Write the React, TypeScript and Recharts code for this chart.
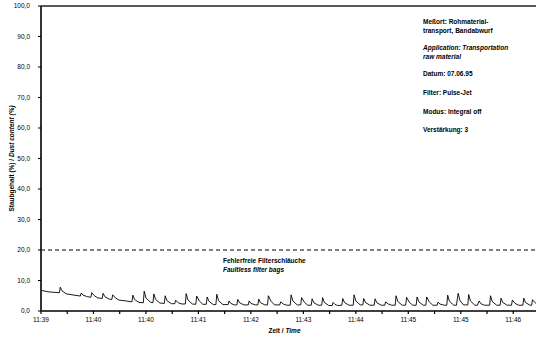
import React from 'react';
import { LineChart, Line, XAxis, YAxis, ReferenceLine } from 'recharts';

// time in seconds after 11:39:00
const seconds = [
  0, 8, 16, 21, 22, 24, 29,
  45, 46, 48, 53,
  57, 58, 61, 65,
  70, 71, 73, 78,
  81, 82, 85, 89,
  97,
  104, 105, 107, 112,
  117, 118, 120, 125,
  128, 129, 131, 136,
  141, 142, 144, 149,
  153, 154, 157, 161,
  165, 166, 168, 173,
  177, 178, 181, 185,
  189, 190, 192, 197,
  200, 201, 203, 208,
  214, 215, 217, 221,
  224, 225, 227, 232,
  237, 238, 240, 245,
  248, 249, 251, 256,
  259, 260, 263, 267,
  273, 274, 277, 281,
  285, 286, 288, 293,
  297, 298, 301, 305,
  309, 310, 312, 317,
  321, 322, 324, 329,
  333, 334, 336, 339,
  344, 345, 347, 352,
  357, 358, 360, 365,
  368, 369, 371, 376,
  381, 382, 384, 389,
  393, 394, 397, 401,
  405, 406, 408, 413,
  417, 418, 421, 425,
  429, 430, 432, 437,
  440, 441, 444, 448,
  453, 454, 456, 461,
  464, 465, 467, 472,
  475, 477, 479, 483,
  488, 489, 491, 496,
  499, 501, 503, 507,
  513, 514, 516, 521,
  525, 526, 528, 533,
  538, 539, 542, 546,
  551, 552, 554, 559,
  561, 562, 565, 566,
];

// dust content in %
const dust = [
  6.8, 6.3, 6.1, 6.0, 7.8, 6.6, 5.6,
  4.9, 5.9, 5.2, 4.7,
  4.5, 6.0, 5.0, 4.3,
  4.1, 5.8, 4.7, 3.9,
  3.8, 5.3, 4.3, 3.6,
  3.3,
  3.0, 5.2, 3.8, 2.8,
  2.7, 6.5, 4.3, 2.9,
  2.7, 5.6, 3.8, 2.6,
  2.5, 5.0, 3.4, 2.4,
  2.4, 3.5, 2.7, 2.3,
  2.3, 5.7, 3.6, 2.3,
  2.2, 4.9, 3.3, 2.2,
  2.2, 4.6, 3.2, 2.1,
  2.1, 5.5, 3.4, 2.1,
  2.1, 3.3, 2.5, 2.0,
  2.0, 3.8, 2.7, 2.0,
  2.0, 3.3, 2.5, 2.0,
  2.0, 3.9, 2.7, 2.0,
  2.0, 5.0, 3.2, 2.0,
  2.0, 3.0, 2.3, 1.9,
  1.9, 5.3, 3.3, 2.0,
  2.0, 4.4, 2.9, 1.9,
  1.9, 4.0, 2.7, 1.9,
  1.9, 4.4, 2.8, 1.8,
  1.8, 2.8, 2.2, 1.8,
  1.9, 4.1, 2.8, 1.9,
  1.9, 5.3, 3.3, 2.0,
  2.0, 4.1, 2.8, 1.9,
  1.9, 4.0, 2.7, 1.9,
  1.9, 3.0, 2.3, 1.9,
  1.9, 5.0, 3.1, 1.9,
  1.9, 4.5, 2.9, 1.9,
  1.9, 4.6, 3.0, 1.9,
  1.9, 4.6, 3.0, 1.9,
  1.9, 2.9, 2.3, 1.9,
  1.9, 5.2, 3.2, 1.9,
  1.9, 5.8, 3.5, 2.0,
  2.0, 5.4, 3.3, 1.9,
  1.9, 3.3, 2.4, 1.9,
  1.9, 5.0, 3.1, 1.9,
  1.9, 4.2, 2.8, 1.9,
  1.9, 3.6, 2.5, 1.9,
  1.9, 4.2, 2.8, 1.9,
  1.9, 3.7, 2.7, 2.5,
];

const xTickSeconds = [0, 30, 60, 90, 120, 150, 180, 210, 240, 270, 300, 330, 360, 390, 420, 450, 480, 510, 540];
const xTickLabels = ['11:39', '11:40', '11:40', '11:41', '11:42', '11:43', '11:44', '11:45', '11:45', '11:46'];
const yTicks = [0, 10, 20, 30, 40, 50, 60, 70, 80, 90, 100];
const limitValue = 20;

const data = seconds.map((t, i) => ({ t, v: dust[i] }));

const FONT = '"Liberation Sans", Arial, sans-serif';

const YTitle = (props: any) => {
  const vb = props.viewBox || {};
  const cx = 14;
  const cy = (vb.y || 0) + (vb.height || 0) / 2;
  return (
    <text
      x={cx}
      y={cy}
      transform={`rotate(-90 ${cx} ${cy})`}
      textAnchor="middle"
      fontFamily={FONT}
      fontSize={6.5}
      fontWeight="bold"
      fill="#000"
    >
      <tspan>Staubgehalt (%) / </tspan>
      <tspan fontStyle="italic">Dust content (%)</tspan>
    </text>
  );
};

const XTitle = (props: any) => {
  const vb = props.viewBox || {};
  const cx = (vb.x || 0) + (vb.width || 0) / 2 - 4;
  return (
    <text x={cx} y={333} textAnchor="middle" fontFamily={FONT} fontSize={6.5} fontWeight="bold" fill="#000">
      <tspan>Zeit / </tspan>
      <tspan fontStyle="italic">Time</tspan>
    </text>
  );
};

const infoLines: { text: string; y: number; italic?: boolean }[] = [
  { text: 'Meßort: Rohmaterial-', y: 24 },
  { text: 'transport, Bandabwurf', y: 33 },
  { text: 'Application: Transportation', y: 50, italic: true },
  { text: 'raw material', y: 59, italic: true },
  { text: 'Datum: 07.06.95', y: 76 },
  { text: 'Filter: Pulse-Jet', y: 95 },
  { text: 'Modus: Integral off', y: 114 },
  { text: 'Verstärkung: 3', y: 132 },
];

export default function App() {
  return (
    <div style={{ position: 'absolute', left: 0, top: 0, width: 536, height: 338, background: '#fff' }}>
      <LineChart width={536} height={338} data={data} margin={{ top: 6, right: 0, bottom: 7, left: 0 }}>
        <XAxis
          dataKey="t"
          type="number"
          domain={[0, 566]}
          ticks={xTickSeconds}
          tickFormatter={(v: number) => (v % 60 === 0 ? xTickLabels[v / 60] : '')}
          interval={0}
          tickSize={3}
          tickMargin={3}
          height={20}
          axisLine={{ stroke: '#000', strokeWidth: 1.5 }}
          tickLine={{ stroke: '#000', strokeWidth: 1.2 }}
          tick={{ fontSize: 6.5, fontFamily: FONT, fill: '#000' }}
          label={<XTitle />}
        />
        <YAxis
          type="number"
          domain={[0, 100]}
          ticks={yTicks}
          interval={0}
          width={41}
          tickSize={3}
          tickMargin={8}
          tickFormatter={(v: number) => v.toFixed(1).replace('.', ',')}
          axisLine={{ stroke: '#333', strokeWidth: 2 }}
          tickLine={{ stroke: '#000' }}
          tick={{ fontSize: 6.5, fontFamily: FONT, fill: '#000' }}
          label={<YTitle />}
        />
        <ReferenceLine y={100} stroke="#222" strokeWidth={1.5} />
        <ReferenceLine y={limitValue} stroke="#000" strokeWidth={1} strokeDasharray="4 3" />
        <Line
          type="linear"
          dataKey="v"
          stroke="#000"
          strokeWidth={0.9}
          dot={false}
          isAnimationActive={false}
        />
      </LineChart>
      <svg width={536} height={338} style={{ position: 'absolute', left: 0, top: 0, pointerEvents: 'none' }}>
        <text x={223} y={263} fontFamily={FONT} fontSize={6.5} fontWeight="bold" fill="#000">
          Fehlerfreie Filterschläuche
        </text>
        <text x={223} y={272} fontFamily={FONT} fontSize={6.5} fontWeight="bold" fontStyle="italic" fill="#000">
          Faultless filter bags
        </text>
        {infoLines.map((l) => (
          <text
            key={l.text}
            x={423}
            y={l.y}
            fontFamily={FONT}
            fontSize={6.5}
            fontWeight="bold"
            fontStyle={l.italic ? 'italic' : 'normal'}
            fill="#000"
          >
            {l.text}
          </text>
        ))}
      </svg>
    </div>
  );
}
